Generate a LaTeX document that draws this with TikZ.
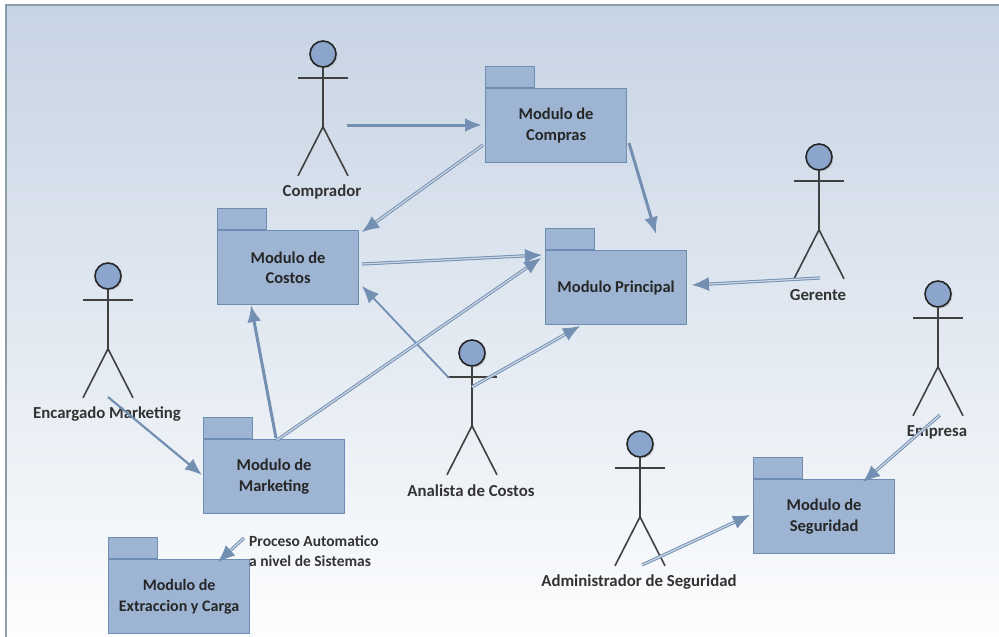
\documentclass[tikz,border=0pt]{standalone}
\usepackage{fontspec}
\setmainfont{Carlito}
\usetikzlibrary{arrows.meta,shadows}
\definecolor{pkgfill}{HTML}{9DB4D3}
\definecolor{pkgline}{HTML}{6F8DB3}
\definecolor{headfill}{HTML}{8BA5CC}
\definecolor{arrowblue}{HTML}{7390B3}
\definecolor{framegray}{HTML}{8C9FA8}
\tikzset{
  pkgbody/.style={draw=pkgline, fill=pkgfill, line width=1.2pt, anchor=north west, minimum width=141pt, minimum height=74pt, align=center, font=\bfseries\fontsize{16.5}{20.5}\selectfont, text=black!85},
  pkgtab/.style={draw=pkgline, fill=pkgfill, line width=1.2pt, anchor=south west, minimum width=49pt, minimum height=21pt, inner sep=0pt},
  acthead/.style={circle, draw=black!85, fill=headfill, line width=1.6pt, minimum size=26pt, inner sep=0pt, drop shadow={opacity=.3, shadow xshift=1.5pt, shadow yshift=-1.5pt}},
  actlabel/.style={font=\bfseries\fontsize{16.8}{20.5}\selectfont, text=black!80, inner sep=0pt},
  actline/.style={draw=black!75, line width=1.6pt},
  reldouble/.style={draw=arrowblue, double=white!65!arrowblue, double distance=1.2pt, line width=1pt, -{Latex[length=17pt,width=14pt]}},
  relsolid/.style={draw=arrowblue, line width=3pt, -{Latex[length=17pt,width=14pt]}}
}
\begin{document}
\begin{tikzpicture}[x=1pt, y=-1pt]
\useasboundingbox (0, 0) rectangle (999, 637);

% Each actor: head, arms, body and legs, then its name
\def\actorfig#1#2#3#4{
  \node[acthead] (#1) at (#2, #3) {};
  \draw[actline] (#1.south) -- ++(0, 59) coordinate (#1hip);
  \draw[actline] (#1hip) -- ++(-25, 49);
  \draw[actline] (#1hip) -- ++(25, 49);
  \draw[actline] (#2, #3) ++(-25, 24) -- ++(50, 0);
  \node[actlabel] (#1name) at (#2, #3) [yshift=-138pt, xshift=-1pt] {#4};
}

% Background and frame
\shade[top color={rgb,255:red,199;green,212;blue,228}, middle color={rgb,255:red,221;green,229;blue,240}, bottom color={rgb,255:red,252;green,253;blue,254}] (7, 6) rectangle (999, 637);
\draw[framegray, line width=1.6pt] (6, 637) -- (6, 5) -- (999, 5);

% Packages
\node[pkgbody] (compras) at (485, 88) {Modulo de\\Compras};
\node[pkgtab] (comprastab) at (compras.north west) {};
\node[pkgbody] (costos) at (217, 230) {Modulo de\\Costos};
\node[pkgtab] (costostab) at (costos.north west) {};
\node[pkgbody] (principal) at (545, 250) {Modulo Principal};
\node[pkgtab] (principaltab) at (principal.north west) {};
\node[pkgbody] (marketing) at (203, 439) {Modulo de\\Marketing};
\node[pkgtab] (marketingtab) at (marketing.north west) {};
\node[pkgbody, font=\bfseries\fontsize{16}{20.5}\selectfont] (extraccion) at (108, 559) {Modulo de\\Extraccion y Carga};
\node[pkgtab] (extracciontab) at (extraccion.north west) {};
\node[pkgbody] (seguridad) at (753, 479) {Modulo de\\Seguridad};
\node[pkgtab] (seguridadtab) at (seguridad.north west) {};

% Actors
\actorfig{comprador}{323}{54}{Comprador}
\actorfig{gerente}{819}{157}{Gerente}
\actorfig{encargado}{108}{276}{Encargado Marketing}
\actorfig{analista}{472}{353}{Analista de Costos}
\actorfig{administrador}{640}{444}{Administrador de Seguridad}
\actorfig{empresa}{938}{294}{Empresa}

% Free text
\node[actlabel, anchor=west, align=left, font=\bfseries\fontsize{15.5}{20.5}\selectfont] (proceso) at (249, 551) {Proceso Automatico\\a nivel de Sistemas};

% Free ends of the connectors
\coordinate (compradorout) at (347, 125);
\coordinate (comprasin) at (482, 125);
\coordinate (comprascostos) at (483, 145);
\coordinate (costosin) at (362, 232);
\coordinate (comprasprincipal) at (629, 143);
\coordinate (principaltop) at (656, 234);
\coordinate (costosprincipal) at (362, 264);
\coordinate (principalleft) at (542, 255);
\coordinate (analistaarm) at (449, 378);
\coordinate (costosright) at (362, 286);
\coordinate (marketingtop) at (276, 438);
\coordinate (costosbottom) at (251, 305);
\coordinate (marketingprincipal) at (277, 440);
\coordinate (principalmid) at (541, 258);
\coordinate (analistaout) at (472, 387);
\coordinate (principalbottom) at (580, 326);
\coordinate (gerenteout) at (820, 278);
\coordinate (principalright) at (692, 285);
\coordinate (encargadoout) at (108, 397);
\coordinate (marketingleft) at (202, 475);
\coordinate (procesoout) at (244, 538);
\coordinate (extraccionin) at (218, 562);
\coordinate (administradorout) at (642, 565);
\coordinate (seguridadleft) at (750, 515);
\coordinate (empresaout) at (940, 415);
\coordinate (seguridadtop) at (863, 482);

% Connectors
\draw[relsolid] (compradorout) -- (comprasin);
\draw[reldouble] (comprascostos) -- (costosin);
\draw[relsolid] (comprasprincipal) -- (principaltop);
\draw[reldouble] (costosprincipal) -- (principalleft);
\draw[relsolid, line width=1.8pt] (analistaarm) -- (costosright);
\draw[relsolid] (marketingtop) -- (costosbottom);
\draw[reldouble] (marketingprincipal) -- (principalmid);
\draw[reldouble] (analistaout) -- (principalbottom);
\draw[reldouble] (gerenteout) -- (principalright);
\draw[relsolid, line width=2.2pt] (encargadoout) -- (marketingleft);
\draw[reldouble] (procesoout) -- (extraccionin);
\draw[reldouble] (administradorout) -- (seguridadleft);
\draw[reldouble] (empresaout) -- (seguridadtop);
\end{tikzpicture}
\end{document}
